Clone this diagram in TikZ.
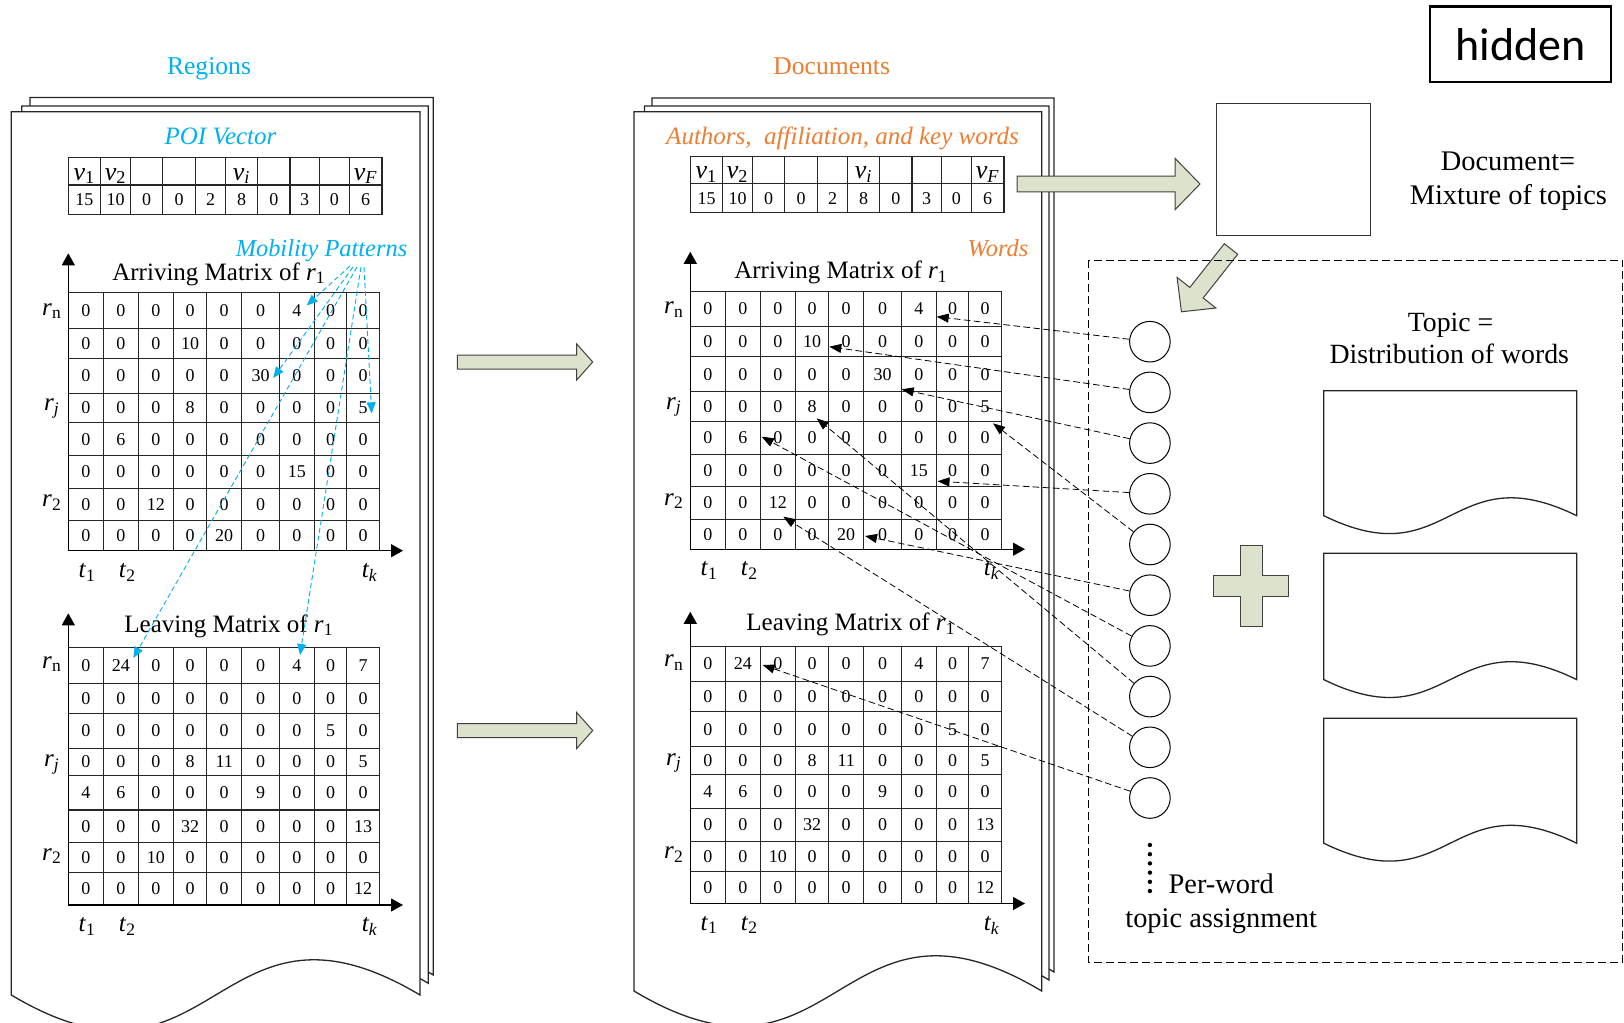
\documentclass[tikz,border=0pt]{standalone}
\usepackage{fontspec}
\setmainfont{Liberation Serif}
\newfontfamily\hidfont{Carlito}
\usetikzlibrary{arrows.meta}
\definecolor{mpcyan}{RGB}{0,176,240}
\definecolor{docorange}{RGB}{237,125,49}
\definecolor{blockfill}{RGB}{221,226,205}
\definecolor{blockedge}{RGB}{64,64,64}
\newcommand\colcx{{85.8,120.8,155.8,190.0,224.2,260.5,296.8,330.5,363.0}}
\newcommand\docpage[5]{%
  \pgfmathsetmacro\dpmid{(#1+#3)/2}%
  \draw[pageline] (#1,#2) -- (#3,#2) -- (#3,#4) .. controls (\dpmid,#4-#5) and (\dpmid,#4+#5) .. (#1,#4) -- cycle;}
\newcommand\blockarr[7]{%
  \begin{scope}[shift={(#1,#2)},rotate=#3]
  \draw[blockarrow] (0,-#5) -- ({#4-#7},-#5) -- ({#4-#7},-#6) -- (#4,0) -- ({#4-#7},#6) -- ({#4-#7},#5) -- (0,#5) -- cycle;
  \end{scope}}
\newcommand\matrixblock[6]{%
  \draw[gridl] (68.3,#2) rectangle (379.3,#3);
  \foreach \yy in {#4} {\draw[gridl] (68.3,\yy) -- (379.3,\yy);}
  \foreach \xx in {103.3,138.3,173.3,206.7,241.7,279.3,314.3,346.7} {\draw[gridl] (\xx,#2) -- (\xx,#3);}
  \draw[axisarr] (68.3,#3) -- (68.3,#6);
  \draw[axisarr] (68.3,#3) -- (403,#3);
  \foreach \yc/\vals [count=\rr] in {#5} {%
    \foreach \vv [count=\cc] in \vals {%
      \pgfmathsetmacro\xc{\colcx[\cc-1]}%
      \node[num] (#1-\rr-\cc) at (\xc,\yc) {\vv};}}}
\newcommand\pagebody[1]{%
  \draw[gridl] (68.3,157.7) rectangle (382,214.3);
  \draw[gridl] (68.3,185) -- (382,185);
  \foreach \xx in {100.7,130.7,162.7,195.7,225.7,257.7,290,319.3,349.3} {\draw[gridl] (\xx,157.7) -- (\xx,214.3);}
  \node[vlab] (#1-v1) at (84.5,180) {\textit{v}\textsubscript{1}};
  \node[vlab] (#1-v2) at (115.7,180) {\textit{v}\textsubscript{2}};
  \node[vlab] (#1-vi) at (241.7,180) {\textit{v\textsubscript{i}}};
  \node[vlab] (#1-vF) at (365.7,180) {\textit{v\textsubscript{F}}};
  \foreach \vv/\xx [count=\cc] in {15/84.5,10/115.7,0/146.7,0/179.2,2/210.7,8/241.7,0/273.9,3/304.7,0/334.3,6/365.7}
    {\node[num] (#1-p\cc) at (\xx,200) {\vv};}
  \matrixblock{#1A}{292.7}{550.7}{328.3,358.3,393.3,422.7,455.7,488.3,520.7}{310.5/{0,0,0,0,0,0,4,0,0},343.3/{0,0,0,10,0,0,0,0,0},375.8/{0,0,0,0,0,30,0,0,0},408.0/{0,0,0,8,0,0,0,0,5},439.2/{0,6,0,0,0,0,0,0,0},472.0/{0,0,0,0,0,0,15,0,0},504.5/{0,0,12,0,0,0,0,0,0},535.7/{0,0,0,0,20,0,0,0,0}}{253.3}
  \matrixblock{#1L}{647.7}{905}{683.3,713.3,748.3,775.7,810,842.7,872.7}{665.5/{0,24,0,0,0,0,4,0,7},698.3/{0,0,0,0,0,0,0,0,0},730.8/{0,0,0,0,0,0,0,5,0},762.0/{0,0,0,8,11,0,0,0,5},792.9/{4,6,0,0,0,9,0,0,0},826.4/{0,0,0,32,0,0,0,0,13},857.7/{0,0,10,0,0,0,0,0,0},888.9/{0,0,0,0,0,0,0,0,12}}{613.3}
  \node[lab] (#1-atitle) at (219,280) {Arriving Matrix of \textit{r}\textsubscript{1}};
  \node[lab] (#1-ltitle) at (229,632) {Leaving Matrix of \textit{r}\textsubscript{1}};
  \node[lab] (#1-arn) at (52,315) {\textit{r}\textsubscript{n}};
  \node[lab] (#1-arj) at (52,410.7) {\textit{r\textsubscript{j}}};
  \node[lab] (#1-ar2) at (52,506.7) {\textit{r}\textsubscript{2}};
  \node[lab] (#1-lrn) at (52,668.3) {\textit{r}\textsubscript{n}};
  \node[lab] (#1-lrj) at (52,766.7) {\textit{r\textsubscript{j}}};
  \node[lab] (#1-lr2) at (52,860) {\textit{r}\textsubscript{2}};
  \node[lab] (#1-at1) at (87.3,577.4) {\textit{t}\textsubscript{1}};
  \node[lab] (#1-at2) at (127.5,577.4) {\textit{t}\textsubscript{2}};
  \node[lab] (#1-atk) at (369.7,577.4) {\textit{t\textsubscript{k}}};
  \node[lab] (#1-lt1) at (87.3,931.7) {\textit{t}\textsubscript{1}};
  \node[lab] (#1-lt2) at (127.5,931.7) {\textit{t}\textsubscript{2}};
  \node[lab] (#1-ltk) at (369.7,931.7) {\textit{t\textsubscript{k}}};
}
\begin{document}
\begin{tikzpicture}[x=0.5pt,y=-0.5pt,
  pageline/.style={draw=black!85, line width=0.65pt, fill=white},
  gridl/.style={line width=0.55pt, draw=black!85},
  num/.style={font=\fontsize{9}{10}\selectfont, inner sep=0pt},
  lab/.style={font=\fontsize{12.5}{14}\selectfont, inner sep=0pt, anchor=base},
  vlab/.style={font=\fontsize{13}{15}\selectfont, inner sep=0pt, anchor=base},
  rtxt/.style={font=\fontsize{14.2}{16}\selectfont, inner sep=0pt, anchor=base},
  axisarr/.style={line width=0.6pt, -{Triangle[length=6pt,width=6.5pt]}},
  cyanarr/.style={draw=mpcyan, line width=0.45pt, dash pattern=on 2.5pt off 1.5pt, -{Triangle[length=5.5pt,width=4.5pt,fill=mpcyan]}},
  blkarr/.style={draw=black, line width=0.4pt, dash pattern=on 3.3pt off 1.7pt, -{Triangle[length=6pt,width=4.5pt]}},
  blockarrow/.style={fill=blockfill, draw=blockedge, line width=0.5pt},
  topiccircle/.style={circle, draw, line width=0.5pt, minimum size=20.3pt, inner sep=0pt}]
\useasboundingbox (0,0) rectangle (1624,1023);
\fill[white] (0,0) rectangle (1624,1023);

% page stacks
\docpage{30}{97.5}{433.3}{975}{120}
\docpage{21.7}{106}{428.3}{983.3}{121}
\docpage{11.3}{111.7}{420}{995}{122}
\docpage{652}{98}{1054}{972}{120}
\docpage{644.5}{106}{1049}{980}{121}
\docpage{634}{111.7}{1041.7}{991}{122}

% titles
\node[lab, text=mpcyan, font=\fontsize{12.8}{14}\selectfont] (regions) at (209,74) {Regions};
\node[lab, text=docorange, font=\fontsize{12.8}{14}\selectfont] (documents) at (831.7,74) {Documents};
\node[lab, text=mpcyan, font=\fontsize{12.5}{14}\selectfont\itshape] (poi) at (220.5,144.3) {POI Vector};
\node[lab, text=docorange, font=\fontsize{12.5}{14}\selectfont\itshape] (authors) at (842.5,144.3) {Authors,\ \ affiliation, and key words};
\node[lab, text=mpcyan, font=\fontsize{12.2}{14}\selectfont\itshape] (mob) at (321.5,256.7) {Mobility Patterns};
\node[lab, text=docorange, font=\fontsize{12.2}{14}\selectfont\itshape] (words) at (998,256.7) {Words};

% page contents
\pagebody{L}
\begin{scope}[shift={(622,-1.5)}]
\pagebody{R}
\end{scope}

% cyan mobility pattern arrows
\coordinate (ms1) at (350,266);
\coordinate (ms2) at (353,267);
\coordinate (ms3) at (364,267);
\coordinate (ms4) at (357,267);
\coordinate (ms5) at (361,267);
\coordinate (mt1) at (306.7,305.5);
\coordinate (mt2) at (273.3,378);
\coordinate (mt3) at (371.7,413.3);
\coordinate (mt4) at (133.3,658);
\coordinate (mt5) at (300,655);
\foreach \i in {1,...,5} {\draw[cyanarr] (ms\i) -- (mt\i);}

% block arrows
\blockarr{457.3}{362}{0}{135.4}{7}{18}{16}
\blockarr{457.3}{730.5}{0}{135.4}{7}{18}{16}
\blockarr{1017}{184}{0}{183}{7.8}{25.7}{25}
\blockarr{1231}{249}{231.7}{80}{8.5}{24.7}{24.3}

% hidden box
\node[draw, line width=1.2pt, minimum width=90.75pt, minimum height=37.8pt, inner sep=0pt, font=\hidfont\fontsize{23}{25}\selectfont] (hidden) at (1520.5,44.4) {hidden};

% document box and text
\node[draw=black!80, line width=0.5pt, minimum width=77pt, minimum height=66pt, inner sep=0pt] (docbox) at (1293,169.5) {};
\node[rtxt] (doceq1) at (1508,170) {Document=};
\node[rtxt] (doceq2) at (1508.4,204) {Mixture of topics};

% dashed topic region
\draw[line width=0.5pt, dash pattern=on 4pt off 2pt] (1088.5,260) rectangle (1622.5,962.5);
\node[rtxt, font=\fontsize{13.9}{16}\selectfont] (topic1) at (1450.6,331.7) {Topic =};
\node[rtxt, font=\fontsize{13.9}{16}\selectfont] (topic2) at (1449.3,363.3) {Distribution of words};
\docpage{1323.8}{390.7}{1576.7}{515.7}{62}
\docpage{1323.8}{553.2}{1576.7}{679.6}{62}
\docpage{1323.8}{718.2}{1576.7}{843.2}{62}

% plus sign
\draw[blockarrow] (1240.4,545.7) -- (1262.3,545.7) -- (1262.3,575.4) -- (1288.8,575.4) -- (1288.8,596.8) -- (1262.3,596.8) -- (1262.3,626.4) -- (1240.4,626.4) -- (1240.4,596.8) -- (1213.2,596.8) -- (1213.2,575.4) -- (1240.4,575.4) -- cycle;

% circles
\foreach \i in {1,...,10} {\node[topiccircle] (c\i) at (1149.9,{341.7+50.7*(\i-1)}) {};}
\foreach \yy in {845,854.2,863.4,872.6,881.8,891} {\fill (1149.9,\yy) circle (1.1pt);}
\node[rtxt] (perword1) at (1221.2,893.2) {Per-word};
\node[rtxt] (perword2) at (1221.2,927.1) {topic assignment};

% dashed word-topic connectors
\coordinate (tip1) at (936.7,316.7);
\coordinate (tip2) at (829.3,346.7);
\coordinate (tip3) at (901.7,389.3);
\coordinate (tip4) at (937.5,481.2);
\coordinate (tip5) at (993,423.3);
\coordinate (tip6) at (865,536);
\coordinate (tip7) at (761.7,436.7);
\coordinate (tip8) at (816.7,418.3);
\coordinate (tip9) at (783.3,516.7);
\coordinate (tip10) at (762.7,665);
\foreach \i in {1,...,10} {\draw[blkarr] (c\i) -- (tip\i);}
\end{tikzpicture}
\end{document}
